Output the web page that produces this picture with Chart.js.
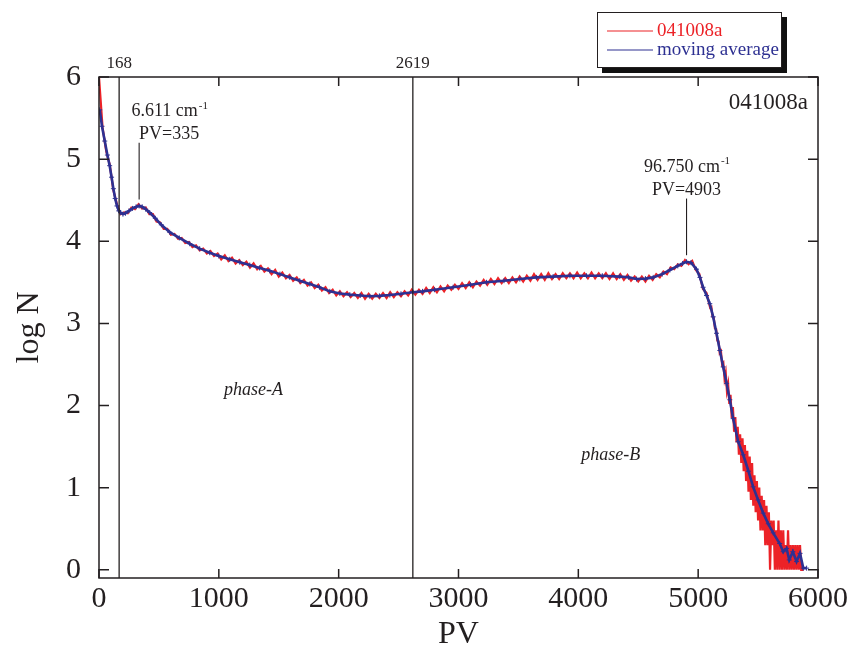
<!DOCTYPE html>
<html>
<head>
<meta charset="utf-8">
<script src="https://cdn.jsdelivr.net/npm/chart.js@4.4.1/dist/chart.umd.min.js"></script>
<style>
  html, body { margin: 0; padding: 0; background: #ffffff; }
  #wrap { width: 852px; height: 654px; }
</style>
</head>
<body>
<div id="wrap"><canvas id="c" width="852" height="654"></canvas></div>
<script>
// ---- data ---------------------------------------------------------------
const runName = '041008a';

// raw spectrum, log N per PV channel (coarse part, every 30 PV from 0)
const rawStartPV = 0;
const rawStepPV = 30;
const rawLogN = [
  6.00, 5.38, 5.10, 4.93, 4.62, 4.45, 4.33, 4.35, 4.34, 4.41,
  4.39, 4.45, 4.40, 4.41, 4.33, 4.33, 4.24, 4.23, 4.15, 4.15,
  4.08, 4.09, 4.03, 4.04, 3.98, 3.99, 3.93, 3.95, 3.89, 3.91,
  3.85, 3.88, 3.82, 3.85, 3.78, 3.83, 3.76, 3.80, 3.73, 3.77,
  3.71, 3.75, 3.68, 3.73, 3.66, 3.70, 3.63, 3.67, 3.60, 3.65,
  3.57, 3.62, 3.55, 3.59, 3.52, 3.56, 3.49, 3.53, 3.46, 3.50,
  3.43, 3.47, 3.40, 3.44, 3.37, 3.41, 3.34, 3.39, 3.33, 3.38,
  3.32, 3.37, 3.31, 3.37, 3.30, 3.36, 3.30, 3.36, 3.31, 3.37,
  3.31, 3.38, 3.32, 3.38, 3.33, 3.39, 3.34, 3.41, 3.35, 3.41,
  3.36, 3.43, 3.37, 3.44, 3.38, 3.45, 3.39, 3.46, 3.41, 3.47,
  3.42, 3.49, 3.43, 3.50, 3.44, 3.51, 3.46, 3.53, 3.47, 3.54,
  3.48, 3.55, 3.49, 3.55, 3.49, 3.56, 3.50, 3.57, 3.51, 3.58,
  3.52, 3.60, 3.53, 3.60, 3.53, 3.61, 3.54, 3.60, 3.54, 3.61,
  3.55, 3.61, 3.55, 3.62, 3.55, 3.61, 3.55, 3.62, 3.55, 3.61,
  3.55, 3.61, 3.54, 3.61, 3.54, 3.60, 3.53, 3.59, 3.52, 3.57,
  3.51, 3.57, 3.51, 3.58, 3.53, 3.60, 3.56, 3.63, 3.60, 3.68,
  3.66, 3.72, 3.70, 3.77, 3.72, 3.76, 3.65, 3.60, 3.42, 3.37,
  3.19
];

// raw spectrum, fall-off part (every 10 PV from 5110)
const tailStartPV = 5110;
const tailStepPV = 10;
const tailLogN = [
  3.20, 3.08, 3.07, 2.94, 2.93, 2.79, 2.78, 2.64, 2.66, 2.50,
  2.52, 2.33, 2.40, 2.18, 2.26, 2.02, 2.13, 1.85, 1.98, 1.68,
  1.86, 1.55, 1.74, 1.40, 1.65, 1.30, 1.60, 1.20, 1.52, 1.08,
  1.45, 0.95, 1.38, 0.85, 1.30, 0.78, 1.15, 0.70, 1.08, 0.60,
  1.00, 0.48, 0.90, 0.48, 0.85, 0.30, 0.78, 0.30, 0.70, 0.00,
  0.60, 0.30, 0.60, 0.00, 0.48, 0.00, 0.60, 0.00, 0.48, 0.00,
  0.48, 0.00, 0.30, 0.00, 0.48, 0.00, 0.30, 0.00, 0.30, 0.00,
  0.30, 0.00, 0.30, 0.00, 0.30, 0.00, 0.00, 0.00
];

// moving average
const avgPV = [
  6, 25, 48, 70, 89, 105, 120, 135, 150, 165,
  180, 200, 220, 250, 280, 310, 335, 360, 390, 423,
  470, 520, 590, 670, 757, 840, 924, 1000, 1091, 1175,
  1258, 1340, 1425, 1510, 1592, 1675, 1759, 1840, 1926, 2010,
  2093, 2180, 2260, 2340, 2427, 2520, 2619, 2700, 2800, 2955,
  3100, 3234, 3380, 3512, 3650, 3790, 3930, 4068, 4200, 4346,
  4420, 4486, 4560, 4625, 4700, 4764, 4830, 4870, 4903, 4940,
  4986, 5015, 5041, 5070, 5097, 5125, 5153, 5181, 5209, 5237,
  5264, 5292, 5334, 5376, 5420, 5459, 5500, 5543, 5585, 5626,
  5680, 5710, 5738, 5760, 5790, 5821, 5850, 5877, 5905
];
const avgLogN = [
  5.60, 5.40, 5.22, 5.05, 4.92, 4.78, 4.64, 4.52, 4.43, 4.37,
  4.35, 4.33, 4.34, 4.37, 4.40, 4.42, 4.43, 4.42, 4.39, 4.35,
  4.28, 4.20, 4.11, 4.04, 3.97, 3.91, 3.86, 3.82, 3.78, 3.745,
  3.71, 3.675, 3.64, 3.60, 3.56, 3.52, 3.48, 3.44, 3.39, 3.365,
  3.35, 3.34, 3.33, 3.335, 3.345, 3.36, 3.38, 3.39, 3.41, 3.44,
  3.47, 3.50, 3.52, 3.54, 3.56, 3.57, 3.58, 3.58, 3.58, 3.57,
  3.56, 3.54, 3.545, 3.56, 3.60, 3.65, 3.70, 3.73, 3.75, 3.74,
  3.66, 3.56, 3.44, 3.34, 3.24, 3.08, 2.88, 2.67, 2.47, 2.27,
  2.07, 1.84, 1.56, 1.40, 1.20, 1.01, 0.85, 0.69, 0.56, 0.45,
  0.32, 0.22, 0.26, 0.12, 0.22, 0.10, 0.20, 0.02, 0.02
];

// phase boundaries
const boundaryPV = [168, 2619];

// marked peaks
const peakPV = [335, 4903];
const peakLogN = [4.43, 3.75];
const peakWavenumber = ['6.611', '96.750'];

// phase names
const phaseNames = ['phase-A', 'phase-B'];

// axis ticks
const xTicks = [0, 1000, 2000, 3000, 4000, 5000, 6000];
const yTicks = [0, 1, 2, 3, 4, 5, 6];

// ---- drawing ------------------------------------------------------------
const SERIF = '"Liberation Serif", "Times New Roman", Times, serif';
const INK = '#231f20';
const RED = '#ec2227';
const BLUE = '#2e3192';

const rawPoints = rawLogN.map((v, i) => ({ x: rawStartPV + i * rawStepPV, y: v }))
  .concat(tailLogN.map((v, i) => ({ x: tailStartPV + i * tailStepPV, y: v })));
const avgPoints = avgPV.map((p, i) => ({ x: p, y: avgLogN[i] }));

const Y_MIN = -0.1, Y_MAX = 6;

const boundaryDatasets = boundaryPV.map(p => ({
  label: '', data: [{ x: p, y: Y_MIN }, { x: p, y: Y_MAX }],
  borderColor: INK, borderWidth: 1.3, pointRadius: 0, order: 1
}));
const leaderDatasets = peakPV.map((p, i) => ({
  label: '', data: [{ x: p, y: peakLogN[i] + 0.08 }, { x: p, y: peakLogN[i] + 0.77 }],
  borderColor: INK, borderWidth: 1.1, pointRadius: 0, order: 1
}));

const decor = {
  id: 'decor',
  afterDatasetsDraw(chart) {
    const { ctx, chartArea: a, scales: { x, y } } = chart;
    ctx.save();
    ctx.strokeStyle = INK;
    ctx.lineWidth = 1.5;
    ctx.strokeRect(a.left, a.top, a.right - a.left, a.bottom - a.top);
    // inward tick marks on all four sides
    ctx.beginPath();
    xTicks.forEach(v => {
      const px = x.getPixelForValue(v);
      ctx.moveTo(px, a.bottom); ctx.lineTo(px, a.bottom - 9);
      ctx.moveTo(px, a.top); ctx.lineTo(px, a.top + 9);
    });
    yTicks.forEach(v => {
      const py = y.getPixelForValue(v);
      ctx.moveTo(a.left, py); ctx.lineTo(a.left + 10, py);
      ctx.moveTo(a.right, py); ctx.lineTo(a.right - 10, py);
    });
    ctx.stroke();

    ctx.fillStyle = INK;
    ctx.textBaseline = 'middle';
    // run name in the corner
    ctx.font = '23px ' + SERIF;
    ctx.textAlign = 'right';
    ctx.fillText(runName, a.right - 10, a.top + 26);

    // peak labels
    const labelShift = [30, 0];
    peakPV.forEach((p, i) => {
      const cx = x.getPixelForValue(p) + labelShift[i];
      const top = y.getPixelForValue(peakLogN[i] + 0.77);
      ctx.font = '18px ' + SERIF;
      ctx.textAlign = 'center';
      ctx.fillText('PV=' + p, cx, top - 8);
      const main = peakWavenumber[i] + ' cm';
      ctx.font = '18px ' + SERIF;
      const wMain = ctx.measureText(main).width;
      ctx.font = '11px ' + SERIF;
      const wSup = ctx.measureText('-1').width;
      const left = cx - (wMain + wSup) / 2;
      ctx.textAlign = 'left';
      ctx.font = '18px ' + SERIF;
      ctx.fillText(main, left, top - 31);
      ctx.font = '11px ' + SERIF;
      ctx.fillText('-1', left + wMain + 1, top - 37);
    });

    // phase names
    ctx.font = 'italic 18px ' + SERIF;
    ctx.textAlign = 'center';
    const phaseAt = [{ pv: 1290, n: 2.19 }, { pv: 4270, n: 1.40 }];
    phaseNames.forEach((t, i) => {
      ctx.fillText(t, x.getPixelForValue(phaseAt[i].pv), y.getPixelForValue(phaseAt[i].n));
    });
    ctx.restore();
  },
  afterDraw(chart) {
    // legend box with drop shadow; raw series listed first
    const { ctx } = chart;
    const bx = 597, by = 12, bw = 185, bh = 56;
    ctx.save();
    ctx.fillStyle = '#111111';
    ctx.fillRect(bx + 5, by + 5, bw, bh);
    ctx.fillStyle = '#ffffff';
    ctx.fillRect(bx, by, bw, bh);
    ctx.strokeStyle = INK;
    ctx.lineWidth = 1;
    ctx.strokeRect(bx + 0.5, by + 0.5, bw - 1, bh - 1);
    const items = chart.data.datasets.filter(d => d.label)
      .sort((p, q) => q.order - p.order);
    ctx.font = '19px ' + SERIF;
    ctx.textBaseline = 'middle';
    ctx.textAlign = 'left';
    items.forEach((d, i) => {
      const ly = by + 19 + i * 19;
      ctx.strokeStyle = d.borderColor;
      ctx.lineWidth = 1.2;
      ctx.beginPath();
      ctx.moveTo(bx + 10, ly); ctx.lineTo(bx + 56, ly);
      ctx.stroke();
      ctx.fillStyle = d.borderColor;
      ctx.fillText(d.label, bx + 60, ly);
    });
    ctx.restore();
  }
};

new Chart(document.getElementById('c'), {
  type: 'line',
  data: {
    datasets: [
      ...boundaryDatasets,
      ...leaderDatasets,
      {
        label: runName, data: rawPoints,
        borderColor: RED, backgroundColor: RED, borderWidth: 2.2,
        pointRadius: 0, tension: 0, order: 3
      },
      {
        label: 'moving average', data: avgPoints,
        borderColor: BLUE, backgroundColor: BLUE, borderWidth: 2.6,
        pointStyle: 'cross', pointRadius: 2.5, pointBorderWidth: 1, pointBorderColor: BLUE,
        tension: 0, order: 2
      }
    ]
  },
  options: {
    responsive: false,
    devicePixelRatio: 1,
    animation: false,
    layout: { padding: { left: 0, right: 34, top: 0, bottom: 0 } },
    plugins: { legend: { display: false }, tooltip: { enabled: false } },
    scales: {
      x: {
        type: 'linear', position: 'bottom', min: 0, max: 6000,
        afterBuildTicks: s => { s.ticks = xTicks.map(v => ({ value: v })); },
        afterFit: s => { s.height = 76; },
        grid: { display: false, drawTicks: false },
        border: { display: false },
        ticks: { font: { family: SERIF, size: 30 }, color: INK, padding: 3, maxRotation: 0, callback: v => String(v) },
        title: { display: true, text: 'PV', color: INK, font: { family: SERIF, size: 32, lineHeight: 1.2 }, padding: { top: 0, bottom: 0 } }
      },
      xTop: {
        type: 'linear', position: 'top', min: 0, max: 6000,
        afterBuildTicks: s => { s.ticks = boundaryPV.map(v => ({ value: v })); },
        afterFit: s => { s.height = 77; },
        grid: { display: false, drawTicks: false },
        border: { display: false },
        ticks: { font: { family: SERIF, size: 17 }, color: INK, padding: 3, maxRotation: 0, callback: v => String(v) }
      },
      y: {
        type: 'linear', position: 'left', min: Y_MIN, max: Y_MAX,
        afterBuildTicks: s => { s.ticks = yTicks.map(v => ({ value: v })); },
        afterFit: s => { s.width = 99; },
        grid: { display: false, drawTicks: false },
        border: { display: false },
        ticks: { font: { family: SERIF, size: 30 }, color: INK, padding: 18, callback: v => String(v) },
        title: { display: true, text: 'log N', color: INK, font: { family: SERIF, size: 32, lineHeight: 1.2 }, padding: { top: 10, bottom: 0 } }
      }
    }
  },
  plugins: [decor]
});
</script>
</body>
</html>
